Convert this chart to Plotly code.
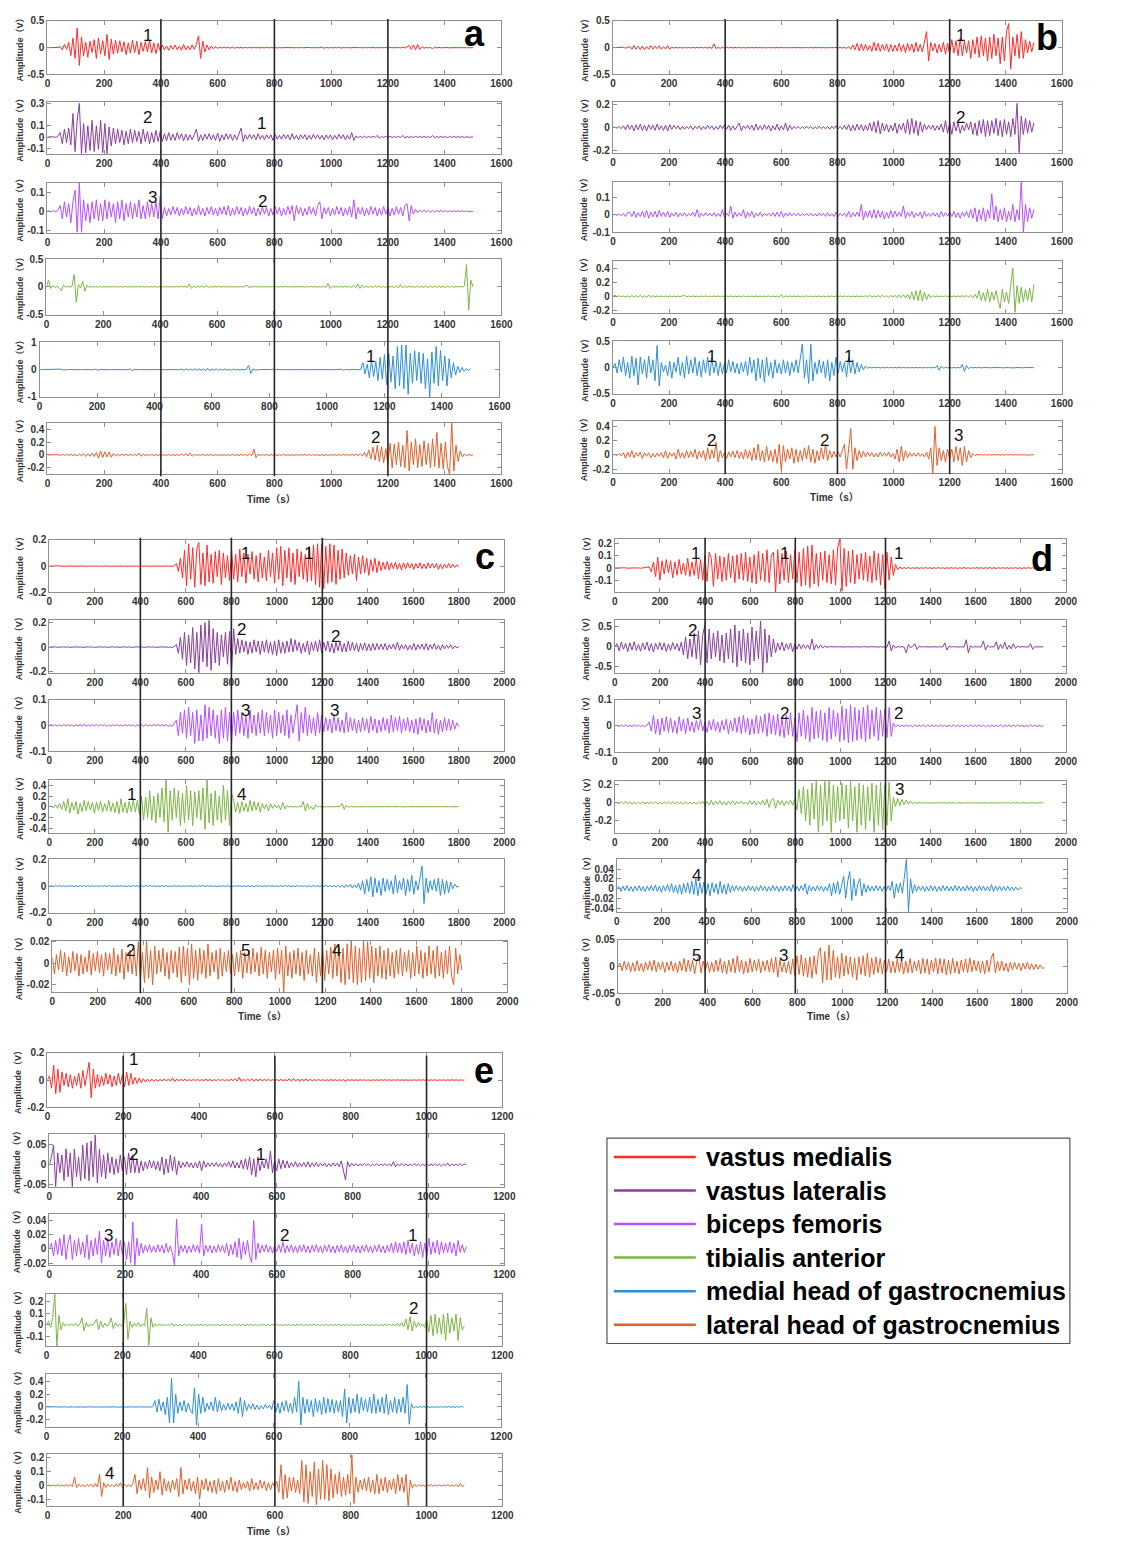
import numpy as np
import plotly.graph_objects as go

W, H = 1146, 1543
FONT = "Liberation Sans, Arial, Noto Sans CJK SC, sans-serif"

MUSCLES = ["vastus medialis", "vastus lateralis", "biceps femoris",
           "tibialis anterior", "medial head of gastrocnemius", "lateral head of gastrocnemius"]
COLORS = ["#ff2b2b", "#8a3f9e", "#b450ff", "#7db544", "#2f8fd6", "#e0602c"]

# ---------------- EMG signals (mV), uniformly sampled over each recording ----------------
A_VM = [0,1,-2,2,-3,5,20,-40,60,-30,100,-150,180,-200,370,-330,200,-150,100,-180,120,-90,150,-200,180,-120,130,-150,250,-220,160,
        -120,140,-100,130,-80,110,-130,90,-100,140,-90,120,-130,100,-70,110,-80,140,-100,90,-110,80,-60,
        50,-40,30,-50,40,-30,50,-40,30,-50,60,-40,30,-40,50,-30,60,220,-200,120,-80,50,-40,30,-20,25,-15,
        10,-8,12,-6,8,-10,15,-12,8,-6,5,-8,6,-4,5,-6,8,-5,4,-6,5,-4,6,-5,4,-3,5,-8,6,-4,3,-4,5,-3,4,-5,3,-4,5,-3,
        4,-3,5,-4,3,-5,4,-3,15,-12,5,-4,3,-5,4,-3,12,-10,4,-3,5,-4,3,-4,5,-3,4,-5,3,-4,5,-3,4,-5,3,-4,5,-3,4,-5,3,-4,5,-3,4,-5,8,-6,10,
        40,-30,50,-40,60,-30,20,-10,5,-4,3,-20,10,-5,4,-3,3,-4,3,-3,2,-3,2,-2,3,-2,2,-2,2,-1,0]
A_VL = [0,1,-3,2,-5,10,40,-60,70,-50,80,-70,210,-130,150,300,-150,120,-140,100,-120,150,-130,100,-110,150,-140,120,-150,90,-80,
        80,-60,70,-50,60,-70,50,-60,70,-50,60,-40,50,-60,70,-40,50,-60,40,-50,60,-40,50,
        -40,30,-35,40,-30,25,-30,40,-20,30,-35,25,-30,20,-25,30,70,-40,20,-30,25,-20,30,-25,20,-30,35,-40,20,-25,30,-20,25,-30,20,-25,30,80,-40,20,
        -20,25,-15,20,-25,30,-20,15,-25,20,-15,20,-30,25,-20,15,-20,25,-15,20,-25,30,-20,15,-25,20,-15,20,-25,15,-20,25,-15,20,-20,15,-25,20,-15,20,-25,15,-20,25,-15,20,-25,15,-20,40,-30,10,-8,
        6,-5,8,-6,5,-4,6,-5,15,-10,4,-3,5,-4,6,-5,4,-3,5,-4,15,-8,5,-4,3,-4,5,-3,4,-5,6,-4,3,-4,12,-6,4,-3,5,-4,3,-4,3,-3,4,-3,3,-3,2,-3,2,-2,2,0]
A_BF = [0,2,-3,3,-4,8,30,-40,50,-30,40,-60,50,110,-110,150,-110,
        60,-50,40,-60,50,-40,60,-50,40,-50,60,-40,50,-30,40,-60,50,-40,60,-50,40,-30,50,-40,40,-30,60,-40,30,-40,50,-30,40,-30,50,-40,80,
        -40,20,-25,15,-20,25,-15,20,-25,15,-20,25,-15,20,-25,15,-20,30,-20,15,-25,20,-15,25,-20,15,-25,20,-15,25,-20,30,-25,15,-20,25,-15,20,-25,15,
        -20,25,-15,20,-25,15,-20,25,-15,20,-25,15,-20,25,-15,20,-25,15,-20,25,-15,30,-50,30,-15,20,-25,15,-20,25,-15,20,-25,30,50,-40,20,-15,20,-25,
        15,-20,25,-15,20,-25,15,-20,25,-30,60,-40,20,-15,20,-25,15,-20,25,-15,20,-25,15,-20,25,-15,20,-25,15,-20,25,-15,20,-25,30,40,-50,30,-15,10,
        -8,6,-5,6,-4,5,-6,4,-5,6,-4,5,-4,3,-4,3,-3,4,-3,3,-2,3,-2,2,-2,1,0]
A_TA = [0,120,-30,20,-10,8,-20,-70,30,-10,8,-6,10,220,-280,40,-20,100,-80,30,-10,
        8,-6,5,-8,6,-5,4,-6,5,-4,6,-5,4,-6,5,-8,6,-5,4,-6,5,-4,6,-5,4,-6,5,-8,6,-5,4,-6,5,-4,6,-5,4,-6,5,-4,
        6,-5,8,-6,10,-15,50,-30,10,-8,6,-5,12,-10,20,-15,8,-6,5,-4,6,-5,4,-6,5,-4,6,-5,4,-6,5,-4,6,30,-15,8,-6,5,-4,6,
        -5,4,-6,5,-4,6,-5,4,-6,5,-4,6,-5,4,-6,5,-4,6,-5,4,-6,5,-4,6,-5,4,-6,5,-8,10,-10,60,-30,10,-6,5,-4,6,-5,4,
        -6,8,-10,15,-20,50,-30,30,-15,10,-8,10,-12,20,-12,10,-8,6,-10,8,-6,10,-15,20,-20,40,-20,15,-10,8,
        -6,10,-12,15,-10,8,-10,20,-15,10,-8,10,-12,15,-10,8,-12,10,-8,10,-10,8,-6,10,-8,20,400,-420,120,0]
A_MG = [0,2,-3,2,-2,3,-2,2,-3,3,20,-15,3,-2,2,-3,2,-2,3,-2,2,-3,2,-2,3,-2,20,-20,3,-2,2,-3,2,-2,3,-2,2,-3,2,-2,
        3,-2,30,-35,8,-3,2,-2,3,-2,2,-3,2,-2,3,-2,2,-3,2,-2,3,-2,2,-3,2,-2,20,-25,30,-20,15,-20,25,-15,30,-25,20,-30,50,-40,
        20,-15,30,-25,20,-15,25,-20,15,-25,20,-15,10,-15,10,-8,10,150,-140,30,-10,5,-5,4,-3,3,-3,2,20,-15,
        5,-3,2,-2,3,-2,2,-3,2,-2,3,-2,2,-3,2,-2,3,-2,2,-3,2,-2,3,-2,2,-3,2,-2,3,-2,15,-20,5,-3,2,-3,2,5,-8,10,
        250,-150,200,-300,350,-250,300,-400,450,-350,550,-550,600,-450,500,-700,850,-600,900,-700,
        900,-900,600,-500,700,-400,650,-500,600,-700,400,-1000,650,-500,850,-600,700,-400,500,-600,
        400,-300,250,-200,120,-100,80,-60,40,-20,30]
A_LG = [0,2,-3,4,-3,5,-6,8,-5,10,-8,12,-10,8,-12,15,-10,20,-25,15,-20,30,-25,40,-50,60,-40,50,-30,45,
        -35,25,-20,15,-12,10,-8,12,-10,8,-6,10,-12,30,-20,10,-8,6,-5,8,-6,5,-8,6,-5,4,-6,5,-4,6,
        -8,10,-12,15,-10,20,-15,30,-20,10,-8,6,-5,8,-6,5,-4,6,-8,6,-5,4,-6,8,-6,5,-8,10,-8,6,
        -10,12,-8,10,-12,15,-10,90,-40,15,-10,8,-6,10,-12,8,-6,5,-8,6,-10,12,-8,6,-5,4,-6,5,-4,6,
        -5,8,-6,5,-4,6,-5,4,-6,5,-8,6,-5,4,-6,8,-6,5,-4,6,-5,8,-6,10,-8,15,-12,20,-15,40,
        -30,80,-60,120,-80,150,-100,130,-120,100,-150,180,-200,170,-150,200,-180,150,-200,380,
        -250,200,-150,250,-200,160,-180,220,-150,180,-200,250,-180,350,-200,180,-220,200,-180,-300,
        500,-250,150,-100,60,-30,20,-15,10,-5,0]

B_VM = [0,2,-3,4,-5,8,-10,12,20,-30,40,-30,25,-35,30,-40,20,-30,40,-25,30,-20,35,-30,20,-25,40,-30,15,-10,
        8,-6,5,-8,6,-5,4,-6,5,-8,6,-5,8,-6,5,-8,10,-15,70,-20,10,-15,12,-10,8,-6,10,-8,6,-5,
        8,-6,5,-8,6,-5,4,-6,5,-4,6,-5,4,-6,5,-4,3,-5,4,-3,5,-4,3,-5,4,-3,5,-4,3,-5,4,-3,5,-4,3,-5,4,-3,5,-4,
        3,-5,4,-3,5,-4,6,-5,4,-8,10,-15,20,-30,50,-40,80,-60,70,-50,60,-50,40,-70,100,-60,80,-70,60,-50,
        70,-80,60,-70,50,-60,80,-70,60,-90,80,-60,70,-90,100,-70,60,-80,90,300,-250,100,-60,80,-100,60,-80,100,-120,80,
        -120,150,-100,130,-150,180,-150,120,-100,130,-200,150,-120,200,-180,220,-150,180,-250,200,
        -200,250,-150,180,-300,200,-250,300,450,-400,200,-150,250,-200,300,-200,150,-100,120,-80,100]
B_VL = [0,3,-5,8,-10,15,-20,25,-15,20,-30,25,-20,30,-25,20,-30,25,-15,20,-25,30,-20,15,-25,20,-30,25,-15,20,
        -10,15,-20,10,-15,8,-10,15,-20,12,-10,15,-20,10,-15,20,-10,15,-20,10,-15,20,-10,25,-15,20,-25,15,-20,10,
        40,-30,15,-10,20,-15,20,-25,30,-20,15,-20,25,-15,20,-30,15,-20,30,-25,15,-20,40,-30,20,-15,10,-8,10,-10,
        8,-10,12,-8,10,-12,8,-10,12,-10,8,-12,10,-15,12,-10,15,-12,10,-15,20,-20,25,-30,20,-25,30,-20,25,-30,
        20,-25,40,-30,50,-45,60,-55,40,-30,30,-40,20,-30,40,-50,30,-20,40,-50,70,-60,80,-50,60,-70,50,-40,30,-20,
        20,-15,20,-25,15,-20,30,-40,60,-50,40,-60,50,-30,40,-50,20,-30,40,-20,50,-60,40,-70,60,-50,70,-80,60,-70,
        60,-50,80,-70,60,-80,70,-60,50,-80,80,-60,210,-220,100,-60,80,-50,60,-40,40]
B_BF = [0,2,-3,5,-6,8,-10,12,15,-10,20,-15,12,-10,20,-15,25,-20,15,-12,20,-15,25,-10,15,-12,20,-15,10,-8,
        15,-12,10,-8,12,-10,8,-6,15,-10,30,-15,10,-8,12,-6,10,-8,12,-10,8,-10,30,-15,10,-8,50,-20,15,-10,
        12,-8,30,-20,15,-10,20,-15,10,-8,15,-10,8,-6,10,-8,12,-10,15,-10,20,-15,10,-8,12,-6,8,-6,10,-8,
        6,-5,8,-6,10,-8,6,-8,10,-6,8,-10,12,-8,6,-10,15,-10,8,-6,10,-12,20,-15,12,-10,15,-10,60,-30,
        20,-15,25,-20,30,-20,25,-15,20,-25,15,-20,25,-15,20,-10,15,-10,50,-20,15,-10,20,-15,10,-8,15,-20,20,-10,
        8,-10,12,-8,10,-15,20,-10,12,-8,15,-10,20,-15,12,-20,15,-10,20,-15,30,-20,40,-40,30,-30,40,-40,30,-20,
        120,-30,50,-40,30,-30,40,-40,20,-30,60,-40,30,-30,190,-100,60,-40,40,-20,30]
B_TA = [0,15,-5,8,-6,5,-8,6,-10,12,-8,10,-12,15,-10,8,-12,20,-15,10,-8,6,-5,4,-6,5,-8,6,-5,4,
        -6,5,-4,6,15,-8,5,-4,6,-5,4,-6,5,-4,6,-5,4,-6,5,-4,6,-5,4,-6,5,-4,6,-5,4,-6,
        5,-4,6,-5,4,-6,5,-4,6,-5,4,-6,5,-4,6,-5,4,-6,5,-8,25,-15,8,-6,5,-4,6,-5,4,-6,
        5,-4,6,-5,4,-6,5,-4,6,-5,4,-6,5,-4,6,-5,4,-6,5,-4,6,-5,4,-6,5,-4,6,-5,4,-6,
        8,-6,10,-8,6,-10,12,-8,15,-10,10,-15,12,-10,15,-20,20,-15,25,-20,30,-40,60,-50,80,-60,90,-70,60,-50,
        30,-20,10,-8,6,-5,4,-6,8,-6,5,-4,6,-8,6,-5,8,-6,10,-8,15,-20,30,-25,80,-60,50,-70,100,-80,
        60,-50,80,-60,-170,100,-80,60,-100,150,400,-230,150,-100,130,-80,100,-60,120,-80,170]
B_MG = [0,80,-100,150,-80,200,-150,100,-200,220,-150,180,-330,200,-120,150,-200,220,-100,150,
        -250,420,-350,100,-80,50,-150,120,-200,100,-80,200,-150,100,-200,220,-120,150,-100,200,
        -150,120,-180,150,-100,200,-150,180,-100,120,-150,100,-120,80,-100,150,-80,120,-100,80,
        -120,100,-80,120,-150,200,-100,150,-250,180,-200,150,-280,200,-150,100,-200,150,-100,80,
        -120,150,-100,120,-150,100,-80,150,-100,200,450,-200,150,-300,450,-250,100,-120,150,-100,
        120,-200,150,-250,100,-150,200,-100,120,-80,100,-180,200,-100,150,-120,100,-80,60,-40,
        30,-10,5,-5,6,-4,5,-6,4,-5,6,-4,5,-5,4,-6,5,-4,6,-5,4,-6,5,-4,6,-5,4,-6,5,-4,
        6,-5,4,-6,40,-50,30,-10,5,-4,6,-5,4,-6,5,-8,60,-70,40,-20,10,-5,4,-4,5,-4,3,-4,5,-4,
        3,-4,5,-3,4,-4,3,-4,3,-3,4,-3,3,-3,2,-3,2,-2,2,-2,0]
B_LG = [0,5,-10,20,-15,30,-50,40,-30,60,-40,30,-20,40,-50,30,-20,30,-40,20,-30,25,-20,30,-40,60,-50,30,-20,30,
        -60,80,-40,30,-50,60,-40,50,-30,80,-60,50,-40,60,-80,100,-60,70,-40,180,
        -100,60,-40,30,-50,40,-30,50,-40,60,-50,40,-60,80,-50,60,-80,100,-70,150,
        -80,60,-100,120,-80,60,-100,80,-120,150,-220,130,-100,80,-60,100,-120,80,-100,60,
        -80,100,-60,130,-100,80,-120,60,-80,100,-60,150,-80,60,-40,50,-30,40,-30,60,
        150,-200,80,370,-200,100,-80,60,-40,50,-30,40,-20,30,-30,20,-30,40,-20,30,
        -20,40,-30,20,-60,80,-100,120,-80,60,-40,30,-20,25,-20,30,-20,15,-30,40,
        -60,100,-280,400,-150,100,-80,60,-100,80,-60,80,-100,120,-80,100,-150,120,-100,60,
        -40,20,-10,8,-6,5,-4,5,-6,4,-5,4,-3,4,-5,3,-4,5,-3,4,-4,3,-3,4,-3,3,-2,3,-2,2,0]

C_VM = [0,1,-2,2,-1,2,-2,1,-2,2,-1,2,-2,1,-2,2,-1,2,-2,1,-2,2,-1,2,-2,1,-2,2,-1,2,-2,1,-2,2,-1,2,-2,1,-2,2,-1,2,-2,1,-2,2,-1,2,-2,1,-2,2,-1,2,-2,1,-2,2,-1,2,-3,5,
        20,-40,60,-90,120,-150,170,-100,140,-160,130,180,-140,100,-150,160,-120,90,-130,110,-80,120,-140,100,-90,80,-110,120,-100,90,-120,130,-80,100,-130,90,-60,110,-100,80,-120,100,-90,70,-110,120,-80,100,-130,140,-100,150,-150,120,-90,140,-120,100,-140,130,-80,110,-100,90,-120,150,-110,160,-140,170,-160,170,-170,150,-130,170,-120,160,-140,120,-100,130,-90,
        100,-70,80,-60,90,-110,70,-60,80,-50,60,-70,50,-40,60,-50,40,
        -35,30,-25,35,-30,25,-20,30,-25,20,-30,25,-20,25,-15,20,-25,20,-15,25,-20,15,-20,25,-15,20,-15,20,-25,15,-20,15,-15,20,-15,15,-10,10,-5]
C_VL = [0,2,-1,2,-2,1,-2,2,-1,2,-2,1,-2,2,-1,2,-2,1,-2,2,-1,2,-2,1,-2,2,-1,2,-2,1,-2,2,-1,2,-2,1,-2,2,-1,2,-2,1,-2,2,-1,2,-2,1,-2,2,-1,2,-2,1,-2,2,-1,2,-2,1,-3,4,
        20,-50,80,-100,120,-150,100,-130,160,-180,120,-210,180,-120,200,-160,220,-190,150,-130,120,-150,100,-80,120,-140,130,-200,
        150,-60,70,-50,60,-40,50,-60,40,-50,60,-40,50,-60,50,-40,60,-50,40,-60,50,-70,60,-50,40,-50,50,-40,70,-40,60,-30,40,-50,30,-40,50,-60,40,-30,50,-40,60,-50,40,-30,50,-40,30,-50,40,-30,50,-40,30,-40,50,-30,40,-30,30,-40,30,-25,35,-30,25,-30,30,-25,30,-20,
        25,-20,30,-25,20,-15,25,-20,40,-25,20,-15,20,-25,15,-20,30,-25,20,-15,25,-20,30,-25,20,-15,30,-20,15,-25,20,-15,15,-10,20,-15,10,-8,5]
C_BF = [0,3,-2,3,-3,2,-3,4,-2,3,-3,2,-4,3,-2,3,-3,4,-3,2,-3,3,-2,4,-3,3,-2,3,-4,2,-3,3,-2,3,-3,2,-3,4,-2,3,-3,2,-4,3,-2,3,-3,4,-3,2,-3,3,-2,4,-3,3,-2,3,-4,2,-4,6,
        20,-40,50,-30,60,-50,70,-40,50,-70,60,-60,40,-60,80,-50,70,-40,60,-50,40,-70,60,-50,70,-60,50,-65,
        50,-40,60,-30,50,-40,40,-50,60,-30,40,-40,50,-30,60,-40,50,-30,40,-50,60,-40,50,-30,40,-40,60,-50,40,-30,30,80,-60,50,-30,70,-40,40,-30,30,-40,50,-30,40,
        -25,30,-20,25,-30,40,-20,30,-25,20,-30,50,-25,30,-20,25,-30,20,-25,30,-20,25,-30,35,-20,25,-30,20,-25,30,-20,25,-30,40,-25,30,-20,35,-30,25,-20,30,-25,20,-30,25,-35,30,-20,25,-30,20,-25,50,-30,25,-35,20,-25,30,-20,25,-20,20,-15,10,-5]
C_TA = [0,10,-20,40,-30,60,-50,100,-80,150,-120,80,-60,100,-140,60,-90,120,-80,100,-60,80,-120,90,-70,110,-100,60,-80,120,-90,70,-110,100,-130,150,-100,80,-120,100,-90,130,-100,120,
        -150,200,-250,180,-200,300,-250,200,-300,250,-200,350,-280,500,-480,300,-250,350,-200,300,-350,250,-300,400,-250,300,-350,280,-200,300,-250,350,-420,500,-300,250,-350,300,-250,200,-300,400,-250,300,-350,250,
        120,-100,80,-120,100,-80,60,-100,120,-80,100,-60,80,-100,60,-40,50,-80,60,-30,40,-20,30,-60,80,-40,20,
        -10,8,-6,5,-5,4,-4,100,-80,60,-40,5,-60,40,-5,4,-3,3,-3,2,-2,3,-2,3,-2,4,60,-50,
        30,-10,3,-2,2,-3,2,-2,3,-2,2,-2,3,-2,2,-3,2,-2,2,-3,2,-2,3,-2,2,-2,3,-2,2,-3,2,-2,2,-2,3,-2,2,-3,2,-2,3,-2,2,-2,3,-2,2,-3,2,-2,2,-3,2,-2,2,0]
C_MG = [0,2,-3,3,-2,4,-3,2,-3,3,-2,3,-4,2,-3,3,-2,4,-3,3,-2,3,-3,2,-4,3,-2,3,-3,4,-3,2,-3,3,-2,4,-3,2,-3,3,-4,5,-3,4,-5,3,-4,5,-3,4,
        -2,3,-3,2,-4,3,-2,3,-3,2,-3,3,-2,4,-3,2,-3,3,-2,3,-4,2,-3,3,-2,4,-3,3,-2,3,-3,2,-4,3,-2,3,-3,4,-3,2,-3,3,-2,4,-3,2,-3,3,-2,3,
        -4,3,-2,3,-3,2,-3,4,-2,3,-3,2,-3,3,-2,4,-3,3,-4,2,-3,3,-2,3,-3,4,-5,3,-4,5,-3,4,-5,6,-4,5,-6,4,-5,6,-8,6,-10,8,-12,10,-8,12,-15,10,-12,20,
        -30,40,-60,50,-40,70,-80,60,-50,40,-70,60,-40,50,-30,40,-60,80,-50,40,-30,60,-70,50,-40,80,-60,40,-30,70,150,-130,60,-50,40,-30,50,-40,60,-70,50,-60,40,-50,30,-20,15,-8,0]
C_LG = [5,-10,8,-6,12,-8,10,-12,6,-9,11,-7,9,-12,8,-10,6,-8,12,-11,9,-7,11,-9,8,-12,10,-6,9,-10,14,-12,8,-9,13,-15,10,-8,12,-10,
        14,-12,20,-15,10,-18,21,-14,12,-20,16,-10,12,-8,14,-12,10,-15,12,-9,11,-13,15,-18,16,-12,14,-20,18,-14,12,-16,14,-10,12,-14,18,-12,10,-8,
        12,-15,14,-12,10,-8,12,-10,8,-12,10,-8,12,-14,10,-9,12,-10,14,-8,10,-12,15,-10,12,-14,10,-8,12,-15,14,-10,12,-27,16,-12,10,-14,12,-10,
        14,-12,10,-16,12,-10,8,-12,14,-18,10,-12,14,-16,12,-10,15,-14,18,-12,16,-18,14,-20,18,-15,21,-18,16,-20,14,-18,21,-16,20,-14,16,-18,14,-12,
        16,-14,12,-15,14,-12,10,-14,12,-10,14,-12,10,-8,12,-14,10,-12,16,-10,12,-14,10,-12,16,-10,12,-14,16,-12,10,-14,12,-10,16,-12,-20,14,-10,8,-6]

D_VM = [0,1,-2,2,-1,2,-2,1,-2,2,-1,2,-2,1,-2,3,
        10,-30,50,-70,90,-100,60,-50,70,-40,60,-80,50,-60,70,-50,40,-60,80,-70,50,-60,80,-90,70,-100,
        100,-110,130,80,-150,120,-90,100,-110,90,-100,120,-80,100,-120,110,-90,120,-100,130,-110,90,-120,110,-130,140,-100,120,-110,150,
        -120,100,130,-200,150,-130,120,-100,140,-120,110,-90,150,-120,130,-150,160,-140,180,-160,190,-130,120,-150,130,-100,140,-120,110,-130,
        150,-140,170,240,-190,160,-150,140,-120,150,-130,110,-90,120,-100,130,-110,100,-120,140,-100,120,-140,110,-170,130,-100,90,
        -60,30,-15,8,-5,4,-4,5,-4,3,-3,4,-4,3,-3,4,-3,3,-4,3,-3,4,-3,3,-4,3,-3,4,-3,3,-4,3,-3,4,-3,3,-4,3,-3,4,-3,3,-4,3,-3,4,-3,3,-4,3,-3,4,-3,3,-4,3,-3,4,-3,3,-4,3,-3,4,-3,3,-3,2,-2,1,0]
D_VL = [0,80,-100,120,-60,90,-120,100,-80,130,-90,60,-110,100,-70,120,-100,80,-130,90,-60,110,-80,100,-120,70,-90,110,-60,80,-100,120,
        -200,250,-300,200,-250,350,-300,400,-450,300,550,-400,450,-300,350,-250,400,-350,300,-400,350,-300,450,-400,550,-500,400,-350,450,-400,350,-450,500,-350,400,-300,650,-650,450,-400,300,-250,200,-150,
        100,-80,120,-100,80,-60,100,-120,80,-60,70,-50,60,-40,50,-60,200,-80,60,-40,50,-30,20,-10,
        5,-4,3,-3,4,-3,3,-4,3,-3,4,-3,3,-4,3,-3,4,-3,3,-3,4,-3,3,-4,3,-5,
        5,-10,150,-100,50,-30,10,-5,4,-4,-150,60,-20,10,80,-60,20,-5,4,-3,3,-4,3,-3,4,-3,3,-5,100,-80,20,-5,4,-3,3,-4,3,-5,180,-150,30,-10,5,-4,3,-5,150,-80,40,-10,5,-4,130,-70,60,-40,120,-60,40,-50,80,-40,20,-10,5,-4,3,-5,80,-60,10,-5,3,-2,0]
D_BF = [0,2,-3,3,-2,3,-3,2,-3,4,-2,3,-3,2,-4,3,
        15,-20,40,-30,25,-35,30,-20,35,-25,30,-25,20,-30,35,-20,25,-30,30,-20,15,-25,20,-15,25,-20,15,-25,20,-15,25,-20,15,-25,20,-15,25,-30,20,-20,30,-25,35,-30,40,-25,30,-35,25,-30,40,-30,35,-25,45,-40,50,-30,40,-35,
        45,-40,30,-45,40,-35,50,-40,30,
        -60,50,-40,60,-50,40,-60,70,-50,55,-45,60,-55,50,-60,70,-50,60,-40,50,-60,75,-55,65,-65,80,-60,70,-55,60,-50,70,-60,80,-50,60,-40,70,-55,60,-40,65,-45,70,-40,
        10,-5,4,-4,3,-3,4,-3,3,-4,4,-3,3,-3,4,-4,3,-3,4,-3,3,-3,4,-3,3,-4,3,-3,4,-3,3,-3,4,-4,3,-3,4,-3,3,-3,4,-3,3,-4,3,-3,4,-3,3,-3,4,-4,3,-3,4,-3,3,-3,4,-3,3,-4,3,-3,4,-3,3,-3,2,-2,0]
D_TA = [0,8,-10,12,-8,15,-10,12,-15,10,-12,8,-10,15,-12,10,-8,12,-10,15,-12,10,-15,12,-8,10,-12,15,-10,12,-8,10,-15,12,-10,8,-12,10,-15,12,-10,20,-25,15,-20,30,-25,20,-15,25,-20,15,-25,20,-15,25,-20,15,-10,20,-15,10,-20,25,-15,20,-25,15,-20,30,-25,40,-50,30,
        50,-60,30,-20,25,-30,20,-15,30,-25,40,
        -80,150,-120,180,-200,150,-250,220,-180,250,-330,200,-250,240,-200,250,-330,200,-220,180,-200,220,-180,200,-280,240,-200,180,-330,220,-250,200,-300,180,-200,220,-330,200,-250,230,-300,200,-250,230,-200,
        60,-40,50,-30,40,-20,30,-15,20,-10,8,-5,
        4,-3,3,-2,3,-2,2,-3,2,-2,3,-2,2,-2,3,-2,2,-3,2,-2,2,-2,3,-2,2,-2,3,-2,2,-3,2,-2,2,-2,3,-2,2,-3,2,-2,3,-2,2,-2,3,-2,2,-3,2,-2,2,-3,2,-2,2,-2,2,-1,0]
D_MG = [0,4,-6,5,-4,6,-5,4,-6,5,-4,6,-5,4,-6,5,-4,6,-5,7,-6,5,-8,6,-5,8,-6,10,-8,6,-10,8,-12,10,-8,12,-10,15,-12,20,
        -15,12,-10,14,-12,10,-15,12,-8,10,-12,15,-10,8,-12,10,-8,6,-5,6,-4,5,-6,4,-5,6,-4,5,-6,4,-5,6,-4,5,-6,4,-5,6,-4,5,
        -6,4,-5,6,-4,5,-6,8,-5,4,-5,6,-4,10,-12,6,-5,4,-5,6,-4,5,-6,4,-5,10,-15,12,-10,15,-12,10,25,-20,15,35,-25,20,-15,10,
        20,-15,10,-8,6,-5,4,-5,6,-4,5,-6,4,-5,6,-4,15,-20,10,-8,12,-10,20,60,-48,20,-10,8,-6,5,-4,5,-6,4,-5,6,-4,5,-6,4,
        -5,6,-4,5,-5,4,-5,6,-4,5,-5,4,-5,6,-4,5,-6,4,-5,6,-4,5,-5,4,-5,8,-6,5,-4,5,-5,4,-4,5,-4,3,-4,3,-3,2,0]
D_LG = [0,6,-8,10,-6,8,-10,7,-9,11,-8,6,-10,8,-6,10,-8,12,-10,8,-6,9,-11,8,-7,10,-9,7,-12,10,-8,15,-10,12,-9,11,-14,10,20,-12,
        10,-8,9,-11,8,-10,12,-9,15,-12,10,-14,12,-10,15,-12,20,-10,12,-14,10,-12,15,-10,12,-8,14,-12,10,-8,12,-10,15,-12,18,-20,12,-10,8,-12,
        10,-15,14,-18,20,-15,22,-18,16,-20,18,-22,20,-15,25,35,-30,28,-25,40,-25,30,-20,18,-22,25,-18,20,-15,18,-20,16,-25,18,-15,20,-18,25,-20,16,
        -15,18,-12,15,-14,12,-10,14,-12,10,-12,14,-10,12,-14,10,-12,15,-12,10,-8,12,-14,15,-12,14,-15,12,-10,16,-14,15,-12,14,-16,12,-14,15,-12,10,
        -14,12,-10,14,-12,16,-10,12,-8,10,-12,10,-14,12,-10,15,25,-12,10,-8,10,-8,6,-10,8,-6,8,-5,6,-8,6,-5,8,-6,5,-6,4,-5,3,-4,-2]

E_VM = [0,30,-60,110,-100,80,-90,60,-40,50,-50,40,-60,30,-40,50,-60,70,-40,60,130,-130,80,-60,40,-50,30,-40,50,-30,
        40,-50,30,-40,50,-30,40,-50,60,-40,50,-30,20,-25,15,-20,10,-15,8,-10,6,-8,5,-6,4,-5,6,-4,5,-6,
        15,-12,8,-6,5,-4,6,-5,4,-5,6,-4,5,-6,4,-5,6,-4,5,-6,4,-5,6,-4,5,-6,4,-5,6,-4,
        10,-8,20,-10,6,-5,8,-6,10,-8,6,-5,8,-6,5,-4,6,-5,4,-5,4,-4,5,-4,3,-5,10,-8,12,-8,
        8,-10,6,-5,8,-6,5,-4,3,-4,4,-3,3,-4,3,-3,4,-3,3,-4,3,-3,4,-10,4,-3,3,-3,2,-2,
        3,-2,2,-2,2,-3,2,-2,2,-2,2,-2,3,-2,2,-2,2,-2,3,-2,2,-2,2,-3,2,-2,2,-2,2,-2,3,-2,2,-2,2,-2,2,-3,2,-2,2,-2,2,-2,3,-2,2,-2,2,-1,0]
E_VL = [0,20,50,-55,30,-20,25,-40,40,-30,30,-55,40,-30,20,-40,50,-35,55,-40,60,-30,75,-45,40,-30,25,-35,30,-20,
        20,-25,15,-20,25,-15,20,-25,30,-20,25,-20,15,-20,10,-15,8,-10,12,-8,10,-12,8,-15,20,-25,15,-20,25,-15,
        20,-25,10,-8,6,-5,8,-6,5,-8,6,-8,10,-15,10,-6,5,-4,5,-4,6,-5,4,-6,5,-4,8,-6,10,-8,
        6,-8,12,-10,15,-12,20,-25,15,-30,20,-15,10,-8,15,-10,35,-20,10,-15,15,-10,12,-8,10,-8,6,-5,8,-6,
        5,-4,6,-5,8,-6,5,-4,6,-5,4,-3,4,-5,3,-4,5,-3,4,-5,10,-15,-38,8,-5,4,-3,3,-3,2,
        -2,3,-2,2,-3,2,-2,3,-2,2,-2,3,-2,2,-3,8,-5,2,-2,3,-2,2,-3,2,-2,3,-2,2,-3,2,
        -2,3,-2,2,-2,3,-2,2,-3,2,-2,5,-3,2,-2,2,-2,3,-2,2,0]
E_BF = [0,8,-10,12,-8,15,-10,20,-15,10,20,-15,12,-10,15,-8,10,-12,20,-15,12,-10,15,-8,25,-20,12,-10,15,-12,
        10,-8,15,-10,12,-8,10,-15,10,-20,38,-23,15,-10,8,-6,5,-4,6,-5,4,-5,6,-4,5,-6,8,-5,4,-6,
        -23,42,-10,5,-4,5,-6,4,-5,6,-4,5,-6,35,-10,5,-4,5,-6,4,-5,6,-4,5,-6,8,-10,6,-8,10,
        -12,15,-15,10,-8,12,-10,-20,40,-15,8,-6,5,-4,6,-5,4,-6,5,-4,6,-5,10,-6,5,-4,6,-5,4,-6,
        5,-4,6,-5,4,-6,5,-4,6,-5,4,-6,5,-4,6,-5,4,-6,5,-4,6,-5,4,-6,5,-4,6,-5,4,-6,
        5,-4,6,-5,4,-6,5,-4,6,-5,4,-6,5,-4,8,-6,10,-5,8,-6,10,-8,12,-6,8,-10,6,-8,10,-12,
        8,-10,15,-8,10,-6,12,-8,10,-6,8,-5,10,-6,8,-10,12,-5,6,-5,3]
E_TA = [0,30,-20,60,260,-180,80,-40,20,-10,8,-6,10,-8,15,-10,8,60,-50,20,-15,10,-8,20,50,-40,30,-20,15,-10,
        10,60,-30,20,-10,8,-10,15,180,-120,30,-20,15,-10,20,-15,10,-8,140,-170,60,-20,10,-8,6,-5,4,-6,5,-4,
        15,-10,6,-5,4,-6,5,-4,6,-5,4,-6,5,-4,6,-5,4,-6,5,-4,6,-5,4,-6,5,-4,6,-5,4,-6,
        5,-4,6,-5,4,-6,5,-4,6,-5,4,-6,5,-4,6,-5,4,-6,5,-4,6,-5,4,-6,5,-4,6,-5,4,-6,
        5,-4,6,-5,4,-6,5,-4,6,-5,4,-6,5,-4,6,-5,4,-6,5,-4,6,-5,4,-6,5,-4,6,-5,4,-6,
        5,-4,6,-5,4,-6,5,-4,6,-5,4,-6,5,-4,6,-5,8,-10,15,-10,20,-15,50,-40,70,-50,30,-20,20,-10,
        10,-20,40,-60,80,-90,90,-70,60,-80,90,-130,100,-70,60,-50,90,-130,60,-40,-10]
E_MG = [0,2,-3,2,-2,3,-2,2,-3,2,-2,3,-2,2,-2,3,-2,2,-3,2,-2,3,-2,2,-3,2,-2,3,-2,2,-2,3,-2,2,-3,2,-2,3,-2,2,-2,3,-2,2,-3,2,-2,3,-2,2,-3,
        5,100,-80,120,-60,80,-120,150,-250,450,-250,200,-100,80,-60,100,-80,60,-50,-100,
        300,-280,200,-100,150,-80,60,-40,80,-60,150,-80,100,-60,40,-50,60,-40,50,-60,
        80,-100,150,-150,100,-60,40,-30,50,-40,30,-40,20,-30,40,-20,30,-40,100,-80,
        60,-100,80,-60,100,-80,60,-100,150,-80,400,-280,150,-100,120,-80,100,-150,130,-80,
        100,-120,150,-100,130,-80,120,-100,100,-80,100,-150,280,-250,150,-100,130,-80,200,-100,
        150,-60,120,-80,150,-100,200,-100,120,-80,150,-100,200,-120,100,-80,150,-100,120,-80,
        150,-100,350,-270,50,-20,10,-8,6,-5,8,-6,5,-8,6,-5,4,-6,5,-4,6,-5,8,-6,5,-8,10,-6,8,-5]
E_LG = [0,3,-4,5,-4,6,-5,4,-6,5,-4,6,-8,60,-15,10,-8,6,-10,8,-6,10,-12,15,-10,80,-80,20,-15,10,
        -8,6,-10,12,-8,20,-15,10,-8,6,-10,15,80,-60,40,-30,50,-40,130,-90,60,-50,40,-30,100,-70,50,-40,30,-50,
        40,-30,50,-80,130,-60,40,-30,50,-40,30,-60,60,-100,40,-30,50,-40,30,-50,40,-60,50,-40,30,-50,40,-30,60,-40,
        30,-50,40,-30,20,-20,30,-40,50,-30,20,-30,40,-20,30,-40,20,-30,20,-10,30,-50,150,-100,80,-90,60,-40,60,-50,
        40,-60,180,-120,150,-130,100,-80,170,-140,120,-100,180,-100,150,-110,120,-90,80,-60,
        100,-80,60,-70,80,-60,220,-130,60,-50,40,-30,50,-40,60,-50,40,-60,80,-60,50,-40,60,-50,40,-30,50,-60,80,-40,
        60,-50,80,-150,40,-20,10,-8,6,-5,4,-6,5,-4,6,-5,4,-5,6,-4,5,-4,6,-5,4,-6,8,-10,15,-10,5]

# recording durations (s)
DUR_A = [1500] * 6
DUR_B = [1500] * 6
DUR_C = [1800] * 6
DUR_D = [1900, 1900, 1900, 1900, 1800, 1900]
DUR_E = [1100] * 6

# axis ticks / ranges (V)
XTICKS_AB = [0, 200, 400, 600, 800, 1000, 1200, 1400, 1600]
XTICKS_CD = [0, 200, 400, 600, 800, 1000, 1200, 1400, 1600, 1800, 2000]
XTICKS_E = [0, 200, 400, 600, 800, 1000, 1200]

YTICKS_A = [[-0.5, 0, 0.5], [-0.1, 0, 0.1, 0.3], [-0.1, 0, 0.1], [-0.5, 0, 0.5], [-1, 0, 1], [-0.2, 0, 0.2, 0.4]]
YTICKS_B = [[-0.5, 0, 0.5], [-0.2, 0, 0.2], [-0.1, 0, 0.1], [-0.2, 0, 0.2, 0.4], [-0.5, 0, 0.5], [-0.2, 0, 0.2, 0.4]]
YTICKS_C = [[-0.2, 0, 0.2], [-0.2, 0, 0.2], [-0.1, 0, 0.1], [-0.4, -0.2, 0, 0.2, 0.4], [-0.2, 0, 0.2], [-0.02, 0, 0.02]]
YTICKS_D = [[-0.1, 0, 0.1, 0.2], [-0.5, 0, 0.5], [-0.1, 0, 0.1], [-0.2, 0, 0.2], [-0.04, -0.02, 0, 0.02, 0.04], [-0.05, 0, 0.05]]
YTICKS_E = [[-0.2, 0, 0.2], [-0.05, 0, 0.05], [-0.02, 0, 0.02, 0.04], [-0.1, 0, 0.1, 0.2], [-0.2, 0, 0.2, 0.4], [-0.1, 0, 0.1, 0.2]]

YRANGE_A = [[-0.5, 0.5], [-0.15, 0.31], [-0.115, 0.15], [-0.5, 0.5], [-1, 1], [-0.3, 0.5]]
YRANGE_B = [[-0.5, 0.5], [-0.22, 0.22], [-0.1, 0.19], [-0.23, 0.5], [-0.5, 0.5], [-0.26, 0.48]]
YRANGE_C = [[-0.2, 0.2], [-0.21, 0.22], [-0.1, 0.1], [-0.48, 0.5], [-0.2, 0.2], [-0.027, 0.021]]
YRANGE_D = [[-0.2, 0.24], [-0.65, 0.67], [-0.1, 0.1], [-0.33, 0.245], [-0.048, 0.06], [-0.05, 0.05]]
YRANGE_E = [[-0.2, 0.2], [-0.055, 0.077], [-0.023, 0.05], [-0.18, 0.26], [-0.31, 0.51], [-0.15, 0.23]]

VLINES_ABCD = [400, 800, 1200]
VLINES_E = [200, 600, 1000]

# phase labels: (row, text, time, amplitude)
NOTES_A = [(0, "1", 353, 0.22), (1, "2", 353, 0.17), (1, "1", 753, 0.12), (2, "3", 371, 0.074),
           (2, "2", 757, 0.053), (4, "1", 1152, 0.49), (5, "2", 1157, 0.27)]
NOTES_B = [(0, "1", 1237, 0.22), (1, "2", 1237, 0.09), (4, "1", 353, 0.22), (4, "1", 841, 0.22),
           (5, "2", 350, 0.2), (5, "2", 755, 0.2), (5, "3", 1233, 0.27)]
NOTES_C = [(0, "1", 860, 0.094), (0, "1", 1140, 0.094), (1, "2", 846, 0.14), (1, "2", 1258, 0.09),
           (2, "3", 860, 0.058), (2, "3", 1252, 0.058), (3, "1", 363, 0.22), (3, "4", 846, 0.22),
           (5, "2", 344, 0.0118), (5, "5", 849, 0.0118), (5, "4", 1249, 0.0118)]
NOTES_D = [(0, "1", 358, 0.118), (0, "1", 752, 0.118), (0, "1", 1258, 0.118), (1, "2", 343, 0.42),
           (2, "3", 362, 0.047), (2, "2", 752, 0.047), (2, "2", 1258, 0.047), (3, "3", 1263, 0.145),
           (4, "4", 355, 0.027), (5, "5", 352, 0.02), (5, "3", 740, 0.02), (5, "4", 1253, 0.02)]
NOTES_E = [(0, "1", 227, 0.15), (1, "2", 223, 0.025), (1, "1", 557, 0.025), (2, "3", 156, 0.019),
           (2, "2", 621, 0.019), (2, "1", 957, 0.019), (3, "2", 965, 0.135), (5, "4", 165, 0.087)]

# ---------------- layout geometry (pixels: left, right, top, bottom) ----------------
PANELS = [
    dict(letter="a", sig=[A_VM, A_VL, A_BF, A_TA, A_MG, A_LG], dur=DUR_A, xmax=1600, xt=XTICKS_AB,
         yt=YTICKS_A, yr=YRANGE_A, notes=NOTES_A, vl=VLINES_ABCD, vspan=(13, 474),
         boxes=[(45, 505, 15, 69), (45, 505, 97, 149), (45, 505, 178, 229), (44, 505, 255, 311),
                (37, 503, 339, 394), (45, 505, 420, 472)],
         lpos=(478, 28), tpos=(272, 497), ytx=17),
    dict(letter="b", sig=[B_VM, B_VL, B_BF, B_TA, B_MG, B_LG], dur=DUR_B, xmax=1600, xt=XTICKS_AB,
         yt=YTICKS_B, yr=YRANGE_B, notes=NOTES_B, vl=VLINES_ABCD, vspan=(13, 472),
         boxes=[(618, 1073, 15, 69), (618, 1073, 97, 148), (618, 1073, 177, 228), (618, 1073, 257, 309),
                (618, 1073, 338, 391), (618, 1073, 418, 471)],
         lpos=(1058, 32), tpos=(843, 495), ytx=589),
    dict(letter="c", sig=[C_VM, C_VL, C_BF, C_TA, C_MG, C_LG], dur=DUR_C, xmax=2000, xt=XTICKS_CD,
         yt=YTICKS_C, yr=YRANGE_C, notes=NOTES_C, vl=VLINES_ABCD, vspan=(536, 995),
         boxes=[(47, 508, 538, 591), (47, 508, 619, 672), (47, 508, 699, 751), (47, 508, 780, 833),
                (47, 508, 860, 914), (50, 511, 942, 994)],
         lpos=(488, 555), tpos=(263, 1018), ytx=17),
    dict(letter="d", sig=[D_VM, D_VL, D_BF, D_TA, D_MG, D_LG], dur=DUR_D, xmax=2000, xt=XTICKS_CD,
         yt=YTICKS_D, yr=YRANGE_D, notes=NOTES_D, vl=VLINES_ABCD, vspan=(536, 995),
         boxes=[(620, 1077, 537, 591), (620, 1077, 619, 672), (620, 1077, 699, 752), (620, 1077, 781, 833),
                (622, 1078, 860, 913), (623, 1078, 941, 995)],
         lpos=(1053, 557), tpos=(839, 1018), ytx=591),
    dict(letter="e", sig=[E_VM, E_VL, E_BF, E_TA, E_MG, E_LG], dur=DUR_E, xmax=1200, xt=XTICKS_E,
         yt=YTICKS_E, yr=YRANGE_E, notes=NOTES_E, vl=VLINES_E, vspan=(1058, 1512),
         boxes=[(45, 506, 1055, 1110), (47, 508, 1137, 1190), (47, 508, 1217, 1269), (44, 506, 1298, 1351),
                (44, 505, 1379, 1432), (45, 506, 1459, 1512)],
         lpos=(487, 1073), tpos=(272, 1537), ytx=15),
]

AX_COLOR = "#8f8f8f"
TICKFONT = dict(family=FONT, size=10, color="#333333", weight="bold")


def px(x):
    return x / W


def py(y):
    return 1 - y / H


fig = go.Figure()
layout = {}
shapes, annos = [], []
n = 0
for p in PANELS:
    first = n + 1
    for r in range(6):
        n += 1
        s = "" if n == 1 else str(n)
        L, R, T, B = p["boxes"][r]
        vals = np.asarray(p["sig"][r], dtype=float) / 1000.0
        t = np.linspace(0, p["dur"][r], len(vals))
        fig.add_trace(go.Scatter(x=t, y=vals, mode="lines", line=dict(color=COLORS[r], width=1),
                                 xaxis="x" + s, yaxis="y" + s, showlegend=False, hoverinfo="skip"))
        common = dict(showline=True, linecolor=AX_COLOR, linewidth=1, mirror="ticks", ticks="inside",
                      ticklen=4, tickwidth=1, tickcolor=AX_COLOR, showgrid=False, zeroline=False,
                      tickfont=TICKFONT, fixedrange=True)
        layout["xaxis" + s] = dict(domain=[px(L), px(R)], anchor="y" + s, range=[0, p["xmax"]],
                                   tickvals=p["xt"], ticktext=[str(v) for v in p["xt"]], **common)
        layout["yaxis" + s] = dict(domain=[py(B), py(T)], anchor="x" + s, range=p["yr"][r],
                                   tickvals=p["yt"][r], ticktext=[f"{v:g}" for v in p["yt"][r]], **common)
        annos.append(dict(text="Amplitude（V）", x=px(p["ytx"]), y=py((T + B) / 2), xref="paper", yref="paper",
                          textangle=-90, showarrow=False, xanchor="center", yanchor="middle",
                          font=dict(family=FONT, size=9, color="#333333", weight="bold")))
    # phase labels
    for (row, txt, tt, yy) in p["notes"]:
        k = first + row
        s = "" if k == 1 else str(k)
        annos.append(dict(text=txt, x=tt, y=yy, xref="x" + s, yref="y" + s, showarrow=False,
                          xanchor="center", yanchor="middle", font=dict(family=FONT, size=17, color="#111111")))
    # vertical phase separators
    s0 = "" if first == 1 else str(first)
    for v in p["vl"]:
        shapes.append(dict(type="line", xref="x" + s0, yref="paper", x0=v, x1=v,
                           y0=py(p["vspan"][1]), y1=py(p["vspan"][0]),
                           line=dict(color="#262626", width=1.6)))
    annos.append(dict(text=p["letter"], x=px(p["lpos"][0]), y=py(p["lpos"][1]), xref="paper", yref="paper",
                      showarrow=False, xanchor="center", yanchor="middle",
                      font=dict(family=FONT, size=36, color="black", weight="bold")))
    annos.append(dict(text="Time（s）", x=px(p["tpos"][0]), y=py(p["tpos"][1]), xref="paper", yref="paper",
                      showarrow=False, xanchor="center", yanchor="middle",
                      font=dict(family=FONT, size=10, color="#333333", weight="bold")))

# legend box
LEG_L, LEG_T, LEG_R, LEG_B = 612, 1141, 1081, 1348
shapes.append(dict(type="rect", xref="paper", yref="paper", x0=px(LEG_L), x1=px(LEG_R),
                   y0=py(LEG_B), y1=py(LEG_T), line=dict(color="#555555", width=1.2), fillcolor="white"))
for i, (name, col) in enumerate(zip(MUSCLES, COLORS)):
    yc = 1160 + i * 33.8
    shapes.append(dict(type="line", xref="paper", yref="paper", x0=px(619), x1=px(702), y0=py(yc), y1=py(yc),
                       line=dict(color=col, width=2.5)))
    annos.append(dict(text=name, x=px(710), y=py(yc), xref="paper", yref="paper", showarrow=False,
                      xanchor="left", yanchor="middle",
                      font=dict(family=FONT, size=25, color="black", weight="bold")))

fig.update_layout(width=W, height=H, margin=dict(l=0, r=0, t=0, b=0), paper_bgcolor="white",
                  plot_bgcolor="white", showlegend=False, shapes=shapes, annotations=annos, **layout)
fig.write_html("out.html")
